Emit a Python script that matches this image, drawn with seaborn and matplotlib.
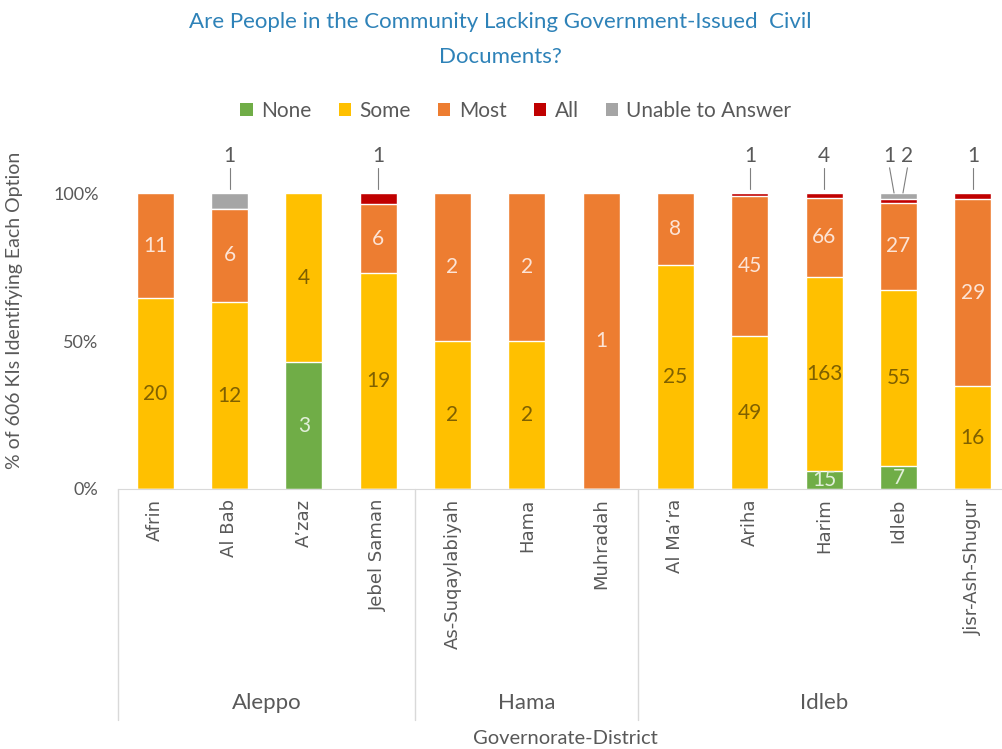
import matplotlib
matplotlib.use("Agg")
import matplotlib.pyplot as plt
from matplotlib.patches import Patch
import numpy as np
import pandas as pd
import seaborn as sns

# ---------------- data ----------------
governorates = ["Aleppo", "Hama", "Idleb"]
group_sizes = [4, 3, 5]
districts = ["Afrin", "Al Bab", "A\u2019zaz", "Jebel Saman",
             "As-Suqaylabiyah", "Hama", "Muhradah",
             "Al Ma\u2019ra", "Ariha", "Harim", "Idleb", "Jisr-Ash-Shugur"]
options = ["None", "Some", "Most", "All", "Unable to Answer"]
none_vals = [0, 0, 3, 0, 0, 0, 0, 0, 0, 15, 7, 0]
some_vals = [20, 12, 4, 19, 2, 2, 0, 25, 49, 163, 55, 16]
most_vals = [11, 6, 0, 6, 2, 2, 1, 8, 45, 66, 27, 29]
all_vals = [0, 0, 0, 1, 0, 0, 0, 0, 1, 4, 1, 1]
unable_vals = [0, 1, 0, 0, 0, 0, 0, 0, 0, 0, 2, 0]
ytick_vals = [0, 0.5, 1.0]
ytick_labels = ["0%", "50%", "100%"]

colors = {"None": "#70AD47", "Some": "#FFC000", "Most": "#ED7D31",
          "All": "#C00000", "Unable to Answer": "#A5A5A5"}
label_colors = {"None": "#E2EFDA", "Some": "#7F6000", "Most": "#FCE4D6"}

sns.set_style("white")
plt.rcParams["font.family"] = ["Lato", "DejaVu Sans"]

counts = pd.DataFrame({"None": none_vals, "Some": some_vals, "Most": most_vals,
                       "All": all_vals, "Unable to Answer": unable_vals},
                      index=districts)
totals = counts.sum(axis=1)
shares = counts.div(totals, axis=0)
cum = shares.cumsum(axis=1)
cum["district"] = districts

fig = plt.figure(figsize=(10.02, 7.49), dpi=100)
ax = fig.add_axes([118 / 1002, 1 - 489 / 749, (1010 - 118) / 1002, 296 / 749])

# stacked via overlay of cumulative shares (largest first)
for opt in reversed(options):
    sns.barplot(data=cum, x="district", y=opt, order=districts, color=colors[opt],
                width=0.5, saturation=1, errorbar=None, ax=ax)

ax.set_ylim(0, 1.0)
ax.set_xlim(-0.5, len(districts) - 0.5)
ax.set_yticks(ytick_vals)
ax.set_yticklabels(ytick_labels, fontsize=13, color="#595959")
ax.tick_params(axis="y", length=0, pad=14)
ax.tick_params(axis="x", length=0, pad=7)
ax.set_xticks(range(len(districts)))
ax.set_xticklabels(districts, rotation=90, fontsize=13, color="#595959",
                   family=["DejaVu Sans"])
ax.set_xlabel("")
ax.set_ylabel("")
for s in ["left", "right", "top"]:
    ax.spines[s].set_visible(False)
ax.spines["bottom"].set_color("#D9D9D9")

# inside labels
for i, d in enumerate(districts):
    base = 0.0
    for opt in ["None", "Some", "Most"]:
        v = counts.loc[d, opt]
        sh = shares.loc[d, opt]
        if v > 0:
            ax.text(i, base + sh / 2, str(v), ha="center", va="center",
                    fontsize=15, color=label_colors[opt])
        base += sh

# outside labels with leader lines
for i, d in enumerate(districts):
    outs = [(opt, counts.loc[d, opt]) for opt in ["All", "Unable to Answer"] if counts.loc[d, opt] > 0]
    if len(outs) == 1:
        ax.text(i, 1.125, str(outs[0][1]), ha="center", va="center", fontsize=15,
                color="#595959", clip_on=False)
        ax.plot([i, i], [1.085, 1.015], color="#7F7F7F", lw=0.8, clip_on=False)
    elif len(outs) == 2:
        for k, (opt, v) in enumerate(outs):
            dx = -0.12 + 0.24 * k
            ax.text(i + dx, 1.125, str(v), ha="center", va="center", fontsize=15,
                    color="#595959", clip_on=False)
            ax.plot([i + dx, i + dx * 0.5], [1.085, 1.0], color="#7F7F7F", lw=0.8, clip_on=False)

# hierarchical axis: separators and group labels
trans = ax.get_xaxis_transform()
bounds = np.cumsum([0] + group_sizes) - 0.5
line_bottom = -(720 - 489) / 296
for b in bounds[:-1]:
    ax.plot([b, b], [0, line_bottom], color="#D9D9D9", lw=1, transform=trans, clip_on=False)
for g, lo, hi in zip(governorates, bounds[:-1], bounds[1:]):
    ax.text((lo + hi) / 2, -(703 - 489) / 296, g, ha="center", va="center",
            fontsize=16, color="#595959", transform=trans)

fig.text(500 / 1002, 1 - 22 / 749, "Are People in the Community Lacking Government-Issued  Civil",
         ha="center", va="center", fontsize=16, color="#2E82B8")
fig.text(500 / 1002, 1 - 57 / 749, "Documents?", ha="center", va="center",
         fontsize=16, color="#2E82B8")
fig.text(15 / 1002, 1 - 310 / 749, "% of 606 KIs Identifying Each Option", rotation=90,
         ha="center", va="center", fontsize=14, color="#595959")
fig.text(565 / 1002, 1 - 738 / 749, "Governorate-District", ha="center", va="center",
         fontsize=14.5, color="#595959")

handles = [Patch(facecolor=colors[o], edgecolor="none") for o in options]
fig.legend(handles, options, loc="center", bbox_to_anchor=(516 / 1002, 1 - 111 / 749),
           ncol=5, frameon=False, fontsize=15, handlelength=0.6, handleheight=0.6,
           handletextpad=0.4, columnspacing=1.3, labelcolor="#595959")

fig.savefig("out.png", dpi=100)
